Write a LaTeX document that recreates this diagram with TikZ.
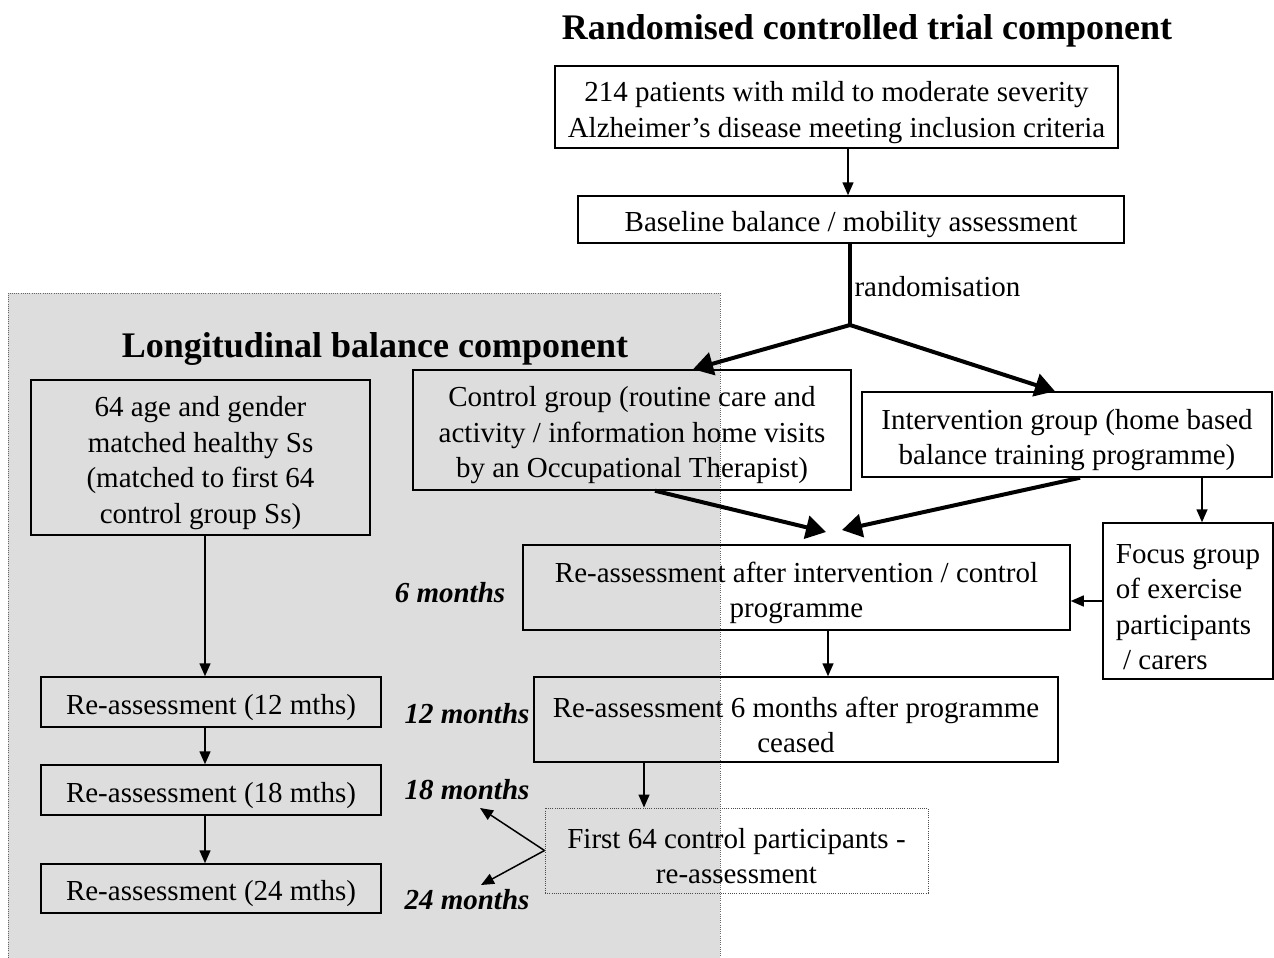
\documentclass[tikz,border=0pt]{standalone}
\usepackage{fontspec}
\setmainfont{Liberation Serif}
\usetikzlibrary{arrows.meta}
\newcommand{\lift}{\rule{0pt}{31pt}}
\tikzstyle{box}=[draw, line width=1.5pt, align=center, inner sep=0pt, font=\fontsize{29}{35.5}\selectfont]
\tikzstyle{dotbox}=[box, draw=black!70, dash pattern=on 1pt off 1.2pt, line width=1pt]
\tikzstyle{heading}=[font=\fontsize{36}{43}\selectfont\bfseries]
\tikzstyle{period}=[font=\fontsize{29}{35}\selectfont\bfseries\itshape]
\tikzstyle{plain}=[font=\fontsize{29}{35}\selectfont]
\tikzstyle{thinarrow}=[line width=1.5pt, -{Triangle[length=13pt,width=11pt]}]
\tikzstyle{thickarrow}=[line width=4pt, -{Triangle[length=20pt,width=23pt]}]

\begin{document}
\begin{tikzpicture}[x=1pt, y=-1pt]
\useasboundingbox (0,0) rectangle (1274,958);
% Longitudinal panel
    \fill[gray!27] (8,293) rectangle (720,958);
    \draw[black!60, dash pattern=on 1pt off 1.2pt, line width=1pt] (8,958) -- (8,293) -- (720,293) -- (720,958);
% Headings
    \node[heading] (rcttitle) at (867,31) {Randomised controlled trial component};
    \node[heading] (longtitle) at (375,349) {Longitudinal balance component};
% Trial boxes
    \node[box, minimum width=563, minimum height=82] (patients) at (836.5,107)
        {\lift 214 patients with mild to moderate severity\\Alzheimer's disease meeting inclusion criteria};
    \node[box, minimum width=546, minimum height=47] (baseline) at (851,219.5)
        {\lift Baseline balance / mobility assessment};
    \node[box, minimum width=438, minimum height=120] (control) at (632,430)
        {\lift Control group (routine care and\\activity / information home visits\\by an Occupational Therapist)};
    \node[box, minimum width=410, minimum height=85] (interv) at (1067,434.5)
        {\lift Intervention group (home based\\balance training programme)};
    \node[box, minimum width=547, minimum height=85] (reass) at (796.5,587.5)
        {\lift Re-assessment after intervention / control\\programme};
    \node[box, align=left, minimum width=170, minimum height=156] (focus) at (1188,601)
        {\lift Focus group\\of exercise\\participants\\~/ carers};
    \node[box, minimum width=524, minimum height=85] (reasssix) at (796,719.5)
        {\lift Re-assessment 6 months after programme\\ceased};
    \node[dotbox, minimum width=383, minimum height=85] (firstsf) at (736.5,850.5)
        {\lift First 64 control participants -\\re-assessment};
% Longitudinal boxes
    \node[box, minimum width=339, minimum height=155] (healthy) at (200.5,457.5)
        {\lift 64 age and gender\\matched healthy Ss\\(matched to first 64\\control group Ss)};
    \node[box, minimum width=340, minimum height=50] (twelve) at (211,702) {\lift Re-assessment (12 mths)};
    \node[box, minimum width=340, minimum height=50] (eighteen) at (211,790) {\lift Re-assessment (18 mths)};
    \node[box, minimum width=340, minimum height=49] (twentyfour) at (211,888.5) {\lift Re-assessment (24 mths)};
% Time points
    \node[period] (msix) at (450,593) {6 months};
    \node[period] (mtwelve) at (467,714) {12 months};
    \node[period] (meighteen) at (467,790) {18 months};
    \node[period] (mtwentyfour) at (467,900) {24 months};
    \node[plain, anchor=west] (rand) at (851,287) {randomisation};
% Split and merge points
    \coordinate (split) at (850,325);
    \coordinate (mergel) at (826,532);
    \coordinate (merger) at (842,530);
    \coordinate (toeighteen) at (480,808);
    \coordinate (totwentyfour) at (481,885);
% Arrows
    \draw[thinarrow] (patients.south -| 848,0) -- (baseline.north -| 848,0);
    \draw[line width=4pt] (baseline.south -| split) -- (split);
    \draw[thickarrow] (split) -- (control.north -| 693,0);
    \draw[thickarrow] (split) -- (interv.north -| 1055,0);
    \draw[thickarrow] (control.south -| 655,0) -- (mergel);
    \draw[thickarrow] (interv.south -| 1080,0) -- (merger);
    \draw[thinarrow] (interv.south -| 1202,0) -- (focus.north -| 1202,0);
    \draw[thinarrow] (focus.west) -- (reass.east |- focus.west);
    \draw[thinarrow] (reass.south -| 828,0) -- (reasssix.north -| 828,0);
    \draw[thinarrow] (reasssix.south -| 644,0) -- (firstsf.north -| 644,0);
    \draw[thinarrow] (firstsf.west) -- (toeighteen);
    \draw[thinarrow] (firstsf.west) -- (totwentyfour);
    \draw[thinarrow] (healthy.south -| 205,0) -- (twelve.north -| 205,0);
    \draw[thinarrow] (twelve.south -| 205,0) -- (eighteen.north -| 205,0);
    \draw[thinarrow] (eighteen.south -| 205,0) -- (twentyfour.north -| 205,0);
\end{tikzpicture}
\end{document}
